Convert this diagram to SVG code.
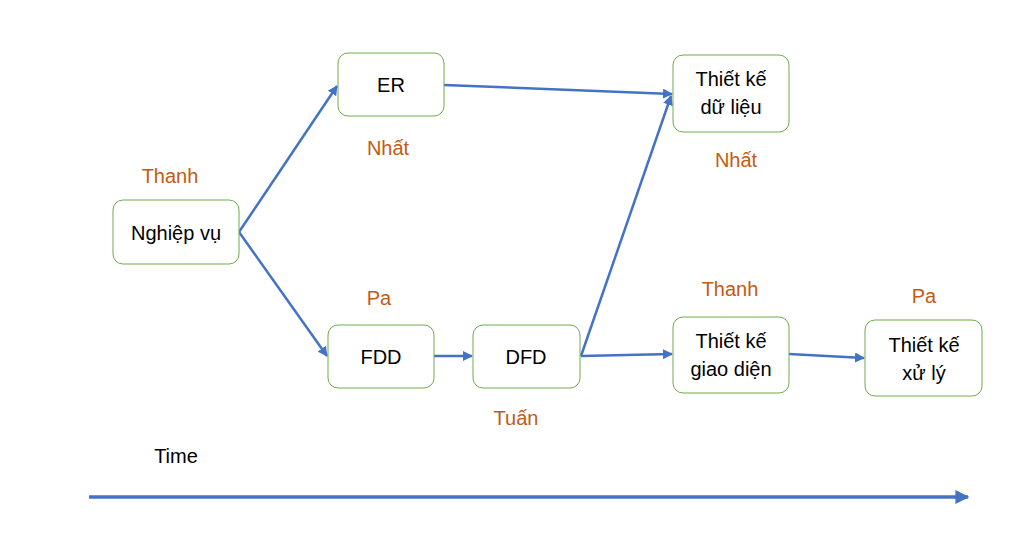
<svg xmlns="http://www.w3.org/2000/svg" width="1013" height="535" viewBox="0 0 1013 535">
<defs>
<marker id="ah" viewBox="0 0 10 10" refX="9" refY="5" markerWidth="4" markerHeight="4" orient="auto" markerUnits="strokeWidth"><path d="M0,0 L10,5 L0,10 z" fill="#4472C4"/></marker>
<style>
.box{fill:#fff;stroke:#70AD47;stroke-width:1}
.t{font-family:"Liberation Sans",Arial,sans-serif;font-size:20px;fill:#000;text-anchor:middle}
.o{font-family:"Liberation Sans",Arial,sans-serif;font-size:20px;fill:#C55A11;text-anchor:middle}
.c{fill:none;stroke:#4472C4;stroke-width:2.5;marker-end:url(#ah)}
</style>
</defs>
<rect width="1013" height="535" fill="#fff"/>
<g id="connectors">
<line class="c" x1="239" y1="232" x2="337" y2="86"/>
<line class="c" x1="239" y1="232" x2="327" y2="356"/>
<line class="c" x1="444" y1="85" x2="672" y2="94"/>
<line class="c" x1="434" y1="356" x2="472" y2="356"/>
<line class="c" x1="581" y1="356" x2="671" y2="96"/>
<line class="c" x1="581" y1="356" x2="672" y2="354"/>
<line class="c" x1="789" y1="354" x2="864" y2="358"/>
<line class="c" x1="89" y1="497" x2="968" y2="497" style="stroke-width:3.5"/>
</g>
<g id="nghiepvu"><rect class="box" x="113" y="200" width="126" height="64" rx="10"/><text class="t" x="176" y="240">Nghiệp vụ</text></g>
<g id="er"><rect class="box" x="338" y="53" width="106" height="63" rx="10"/><text class="t" x="391" y="92">ER</text></g>
<g id="tkdl"><rect class="box" x="673" y="55" width="116" height="77" rx="10"/><text class="t" x="731" y="86">Thiết kế</text><text class="t" x="731" y="114">dữ liệu</text></g>
<g id="fdd"><rect class="box" x="328" y="325" width="106" height="63" rx="10"/><text class="t" x="381" y="364">FDD</text></g>
<g id="dfd"><rect class="box" x="473" y="325" width="107" height="63" rx="10"/><text class="t" x="526" y="364">DFD</text></g>
<g id="tkgd"><rect class="box" x="673" y="317" width="116" height="76" rx="10"/><text class="t" x="731" y="348">Thiết kế</text><text class="t" x="731" y="376">giao diện</text></g>
<g id="tkxl"><rect class="box" x="865" y="320" width="117" height="76" rx="10"/><text class="t" x="924" y="352">Thiết kế</text><text class="t" x="924" y="380">xử lý</text></g>
<g id="labels">
<text class="o" x="170" y="183">Thanh</text>
<text class="o" x="388" y="155">Nhất</text>
<text class="o" x="379" y="305">Pa</text>
<text class="o" x="516" y="425">Tuấn</text>
<text class="o" x="736" y="167">Nhất</text>
<text class="o" x="730" y="296">Thanh</text>
<text class="o" x="924" y="303">Pa</text>
<text class="t" x="176" y="463">Time</text>
</g>
</svg>
